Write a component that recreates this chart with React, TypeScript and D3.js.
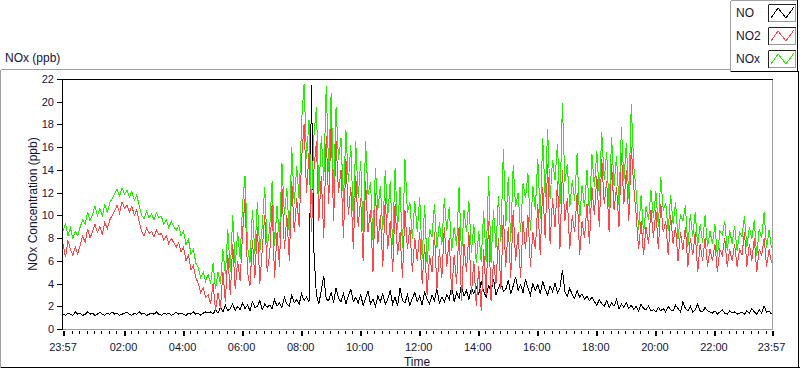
import React from 'react';
import * as d3 from 'd3';

// time of first sample in minutes relative to midnight (23:57 of the previous day), 5-minute samples
const START_MIN = -3;
const STEP_MIN = 5;

const NO_PPB: number[] = [
  1.3,1.2,1.4,1.3,1.2,1.5,1.3,1.4,1.2,1.3,1.5,1.3,
  1.4,1.2,1.3,1.5,1.3,1.2,1.4,1.3,1.5,1.3,1.4,1.2,
  1.3,1.4,1.5,1.3,1.2,1.4,1.3,1.5,1.3,1.4,1.2,1.3,
  1.4,1.3,1.5,1.3,1.2,1.4,1.3,1.4,1.2,1.3,1.5,1.3,
  1.4,1.3,1.2,1.4,1.3,1.5,1.3,1.4,1.2,1.4,1.5,
  1.4,
  1.5,1.3,1.7,1.4,1.9,1.5,2.1,1.6,1.8,2.2,1.6,2.0,
  1.7,2.3,1.8,2.1,1.6,2.4,1.9,2.0,2.5,1.7,2.2,1.9,
  2.1,1.8,2.6,2.0,2.3,1.9,2.8,2.2,2.0,3.0,2.3,2.6,
  2.2,3.1,2.5,2.8,2.4,21.5,6.8,3.0,2.2,3.4,4.7,2.6,
  2.5,3.2,2.3,3.6,2.7,2.4,3.1,2.2,2.9,3.5,2.4,2.8,
  2.3,3.0,2.1,2.7,3.3,2.2,2.6,2.0,2.9,2.4,3.1,2.2,
  2.6,3.4,2.2,2.8,2.0,3.6,2.5,2.3,3.0,2.1,2.7,3.2,
  2.4,2.9,2.1,3.3,2.6,2.2,3.0,2.5,3.5,2.3,2.8,2.4,
  3.0,2.6,3.8,2.4,3.2,2.7,3.9,2.9,3.4,2.6,3.6,3.1,
  3.7,3.0,4.2,3.3,2.8,3.9,3.2,4.4,3.0,3.6,4.1,3.3,
  3.5,4.3,3.1,3.8,4.6,3.4,3.9,3.2,4.4,3.6,3.0,4.0,
  3.4,3.9,3.1,4.2,3.5,3.0,3.8,3.3,4.0,3.2,3.6,5.2,
  3.3,2.9,3.6,3.0,2.7,3.4,2.8,3.1,2.6,2.9,2.5,2.8,
  2.4,2.1,2.6,2.2,2.0,2.5,1.9,2.3,2.0,2.6,1.8,2.2,
  1.9,2.3,1.8,2.1,1.7,2.0,1.6,2.2,1.8,1.7,2.0,1.6,
  1.7,1.5,1.9,1.6,1.8,1.5,2.0,1.7,1.6,2.1,1.8,1.5,
  2.4,1.8,1.6,2.0,1.5,1.7,2.2,1.6,1.5,1.9,1.6,1.5,
  1.4,1.6,1.3,1.5,1.7,1.4,1.3,1.6,1.4,1.5,1.3,1.4,
  1.5,1.3,1.6,1.4,1.8,1.5,1.3,1.7,1.4,2.0,1.5,1.6,
  1.3,
];

const NO2_PPB: number[] = [
  7.5,6.3,7.8,7.0,6.5,7.2,6.6,7.4,
  8.2,7.6,8.8,8.0,8.6,
  9.2,8.5,9.0,8.3,9.4,8.8,9.6,10.0,
  10.4,10.9,10.2,11.2,10.6,10.9,10.3,10.8,10.0,10.5,9.4,
  8.6,8.2,8.9,8.4,8.6,8.1,8.7,8.3,
  8.4,7.8,8.2,7.5,8.0,7.6,7.2,7.6,
  6.8,7.2,6.0,6.5,5.2,5.6,
  4.5,4.0,3.2,3.6,2.8,
  3.0,
  2.2,4.0,1.6,3.2,1.8,5.0,2.4,6.5,3.0,7.5,3.5,6.0,
  4.2,8.5,11.5,5.0,3.8,7.8,4.5,9.0,4.0,7.0,10.0,5.0,
  6.5,11.0,4.5,8.5,5.5,12.5,7.0,10.0,6.0,13.0,8.5,11.5,
  9.0,15.0,18.0,12.0,15.5,8.5,14.0,16.5,9.5,13.5,8.0,17.0,
  11.0,18.0,9.5,16.5,12.0,14.0,8.0,15.0,10.0,12.5,7.0,13.5,
  9.0,11.5,6.0,13.0,8.5,10.5,5.0,12.0,7.5,10.0,5.5,11.5,
  7.0,9.5,5.0,11.0,6.5,8.5,4.5,10.5,7.0,9.0,5.0,8.0,
  6.0,8.5,4.0,7.5,3.0,6.5,5.0,8.5,3.5,7.0,4.5,9.0,
  5.5,8.0,3.0,6.5,4.0,9.0,2.5,7.5,5.0,8.5,3.0,6.0,
  2.0,5.5,1.6,7.0,3.0,9.5,2.5,6.0,4.0,8.0,3.5,10.0,
  5.5,9.0,4.5,10.5,6.0,8.5,4.5,9.5,7.0,10.0,5.5,8.5,
  7.0,11.0,6.5,12.5,8.0,14.5,7.5,11.5,9.0,13.0,7.0,14.0,
  9.5,11.5,7.0,10.0,8.5,12.0,6.5,9.5,8.0,11.0,7.5,12.5,
  10.0,13.5,9.0,15.0,11.0,13.0,8.5,14.5,10.5,12.5,9.0,15.5,
  11.0,14.0,9.5,16.0,12.5,10.0,7.0,9.5,6.5,9.0,7.5,10.5,
  8.0,10.5,7.0,11.0,8.5,9.5,6.5,10.0,7.5,9.0,6.0,8.5,
  7.0,9.0,5.5,8.0,6.5,8.5,5.0,7.5,6.0,8.0,5.5,7.0,
  6.0,7.5,5.0,7.0,6.5,8.0,5.5,7.0,6.0,7.5,5.5,7.0,
  6.5,8.5,5.5,7.5,6.0,8.0,5.0,7.0,6.5,8.0,5.5,7.0,
  5.8,
];

const NOX_PPB: number[] = [
  8.6,9.3,8.2,8.9,8.0,8.6,8.2,9.0,
  9.6,9.2,10.3,9.5,10.1,
  10.8,10.0,10.6,9.9,11.0,10.2,11.1,11.5,
  11.9,12.3,11.7,12.4,11.9,12.2,11.6,12.1,11.3,11.8,10.8,
  10.0,9.7,10.4,9.8,10.1,9.6,10.2,9.8,
  9.9,9.2,9.6,8.9,9.5,9.0,8.7,9.1,
  8.2,8.6,7.4,7.9,6.6,7.0,
  5.8,5.4,4.5,5.0,4.2,
  4.8,
  4.0,5.8,3.5,5.0,4.0,7.0,4.8,8.8,5.0,10.0,5.5,8.5,
  6.2,11.0,13.5,7.3,5.8,10.5,6.6,11.2,6.8,9.0,12.5,7.2,
  8.8,13.0,7.3,10.8,8.0,14.6,10.0,12.4,8.2,16.0,11.0,14.3,
  11.4,18.3,21.6,15.0,18.4,11.0,17.0,19.5,11.8,17.0,13.0,21.4,
  13.8,20.8,12.0,19.5,14.9,16.8,11.2,17.5,12.9,16.2,9.6,16.5,
  11.5,14.8,8.3,16.5,11.8,12.9,7.8,14.2,10.5,12.6,8.7,14.0,
  9.8,13.0,7.4,14.2,8.7,12.5,7.1,15.0,10.2,11.2,7.9,11.3,
  8.5,11.6,6.2,10.9,5.7,8.8,8.1,11.0,7.1,9.4,7.4,11.5,
  8.6,10.7,6.9,9.0,7.3,12.5,6.5,10.5,8.5,11.3,6.7,9.2,
  5.8,8.6,5.9,10.4,5.9,13.5,5.8,10.5,7.1,11.7,7.7,15.8,
  9.1,13.4,7.7,14.4,10.7,12.0,8.5,12.8,11.5,13.7,8.6,12.6,
  10.5,15.0,9.7,16.8,11.6,17.6,11.4,14.9,13.1,16.3,10.7,19.9,
  12.9,14.5,10.7,13.1,11.3,15.5,9.4,12.7,10.7,14.0,10.1,15.4,
  12.5,15.7,11.7,17.3,13.1,15.6,10.5,16.9,12.6,15.2,10.9,17.8,
  13.0,16.4,11.4,19.8,14.3,12.1,8.7,11.8,8.4,10.8,9.6,12.2,
  9.8,12.1,9.0,13.4,10.4,11.1,8.6,11.8,9.2,11.2,7.9,10.1,
  9.5,10.9,7.2,10.1,8.1,10.3,7.3,9.2,7.6,10.0,7.2,8.6,
  7.5,9.2,6.4,8.6,8.3,9.5,6.9,8.7,7.5,9.1,6.9,8.5,
  8.1,9.9,7.2,9.0,7.9,9.6,6.4,8.8,8.0,10.3,7.1,8.7,
  7.1,
];

const SERIES_NAMES = ['NO', 'NO2', 'NOx'];
const SERIES_COLORS = ['#000000', '#ff4646', '#22ee00'];

const Y_TICKS = [0, 2, 4, 6, 8, 10, 12, 14, 16, 18, 20, 22];
const X_TICK_LABELS = ['23:57', '02:00', '04:00', '06:00', '08:00', '10:00', '12:00', '14:00', '16:00', '18:00', '20:00', '22:00', '23:57'];
const X_TICK_MINUTES = [-3, 120, 240, 360, 480, 600, 720, 840, 960, 1080, 1200, 1320, 1437];

const FONT = '"Liberation Sans", Arial, sans-serif';
const TEXT = '#14143c';

export default function App() {
  const W = 800, H = 369;
  const left = 62, right = 772, top = 79, bottom = 329;
  const x = d3.scaleLinear().domain([-3, 1437]).range([63, 771.5]);
  const y = d3.scaleLinear().domain([0, 22]).range([bottom, top]);

  const series = [NO_PPB, NO2_PPB, NOX_PPB];
  const line = d3.line<number>()
    .x((_, i) => x(START_MIN + i * STEP_MIN))
    .y((d) => y(d));

  const minors: number[] = [];
  for (let m = 15; m < 1437; m += 15) {
    if (m % 120 === 0) continue;
    if (x(m) - x(-3) < 4 || x(1437) - x(m) < 4) continue;
    minors.push(m);
  }

  return (
    <svg width={W} height={H} style={{ position: 'fixed', left: 0, top: 0, background: '#fff' }} fontFamily={FONT}>
      <defs>
        <clipPath id="plotClip">
          <rect x={left} y={top - 1} width={right - left} height={bottom - top + 1} />
        </clipPath>
      </defs>
      <rect x={0} y={0} width={W} height={H} fill="#fff" />

      {/* outer frame */}
      <g shapeRendering="crispEdges">
        <line x1={0.5} y1={69.5} x2={731} y2={69.5} stroke="#a0a0a0" />
        <line x1={0.5} y1={69.5} x2={0.5} y2={367.5} stroke="#a0a0a0" />
        <line x1={0.5} y1={367.5} x2={799.5} y2={367.5} stroke="#000" />
        <line x1={798.5} y1={72} x2={798.5} y2={368} stroke="#000" />
      </g>

      <text x={5} y={62} fontSize={12} fill={TEXT}>NOx (ppb)</text>

      {/* legend */}
      <g shapeRendering="crispEdges">
        <rect x={730.5} y={0.5} width={67} height={71} fill="#fff" stroke="none" />
        <line x1={730.5} y1={0.5} x2={797.5} y2={0.5} stroke="#a0a0a0" />
        <line x1={730.5} y1={0.5} x2={730.5} y2={72} stroke="#a0a0a0" />
        <line x1={730.5} y1={71.5} x2={798.5} y2={71.5} stroke="#000" />
        <line x1={797.5} y1={0} x2={797.5} y2={72} stroke="#000" />
      </g>
      {SERIES_NAMES.map((name, k) => {
        const by = 4 + k * 23;
        const bx = 768;
        const bw = 27, bh = 17;
        return (
          <g key={name}>
            <text x={736} y={by + 13} fontSize={12} fill={TEXT}>{name}</text>
            <g shapeRendering="crispEdges">
              <rect x={bx + 0.5} y={by + 0.5} width={bw} height={bh} fill="#fff" stroke="#9a9a9a" />
              <line x1={bx + 0.5} y1={by + 0.5} x2={bx + bw + 0.5} y2={by + 0.5} stroke="#222" />
              <line x1={bx + 0.5} y1={by + 0.5} x2={bx + 0.5} y2={by + bh + 0.5} stroke="#222" />
            </g>
            <polyline
              points={`${bx + 3},${by + 14} ${bx + 10},${by + 4} ${bx + 18},${by + 14} ${bx + 26},${by + 3}`}
              fill="none" stroke={SERIES_COLORS[k]} strokeWidth={1} shapeRendering="crispEdges" />
          </g>
        );
      })}

      {/* data */}
      <g clipPath="url(#plotClip)">
        {series.map((s, k) => (
          <path key={k} d={line(s) || ''} fill="none" stroke={SERIES_COLORS[k]} strokeWidth={1}
            strokeLinejoin="miter" shapeRendering="crispEdges" />
        ))}
      </g>

      {/* plot box */}
      <g shapeRendering="crispEdges">
        <line x1={left} y1={bottom + 0.5} x2={right + 1} y2={bottom + 0.5} stroke="#a0a0a0" />
        <line x1={right + 0.5} y1={top} x2={right + 0.5} y2={bottom + 1} stroke="#a0a0a0" />
        <line x1={left + 0.5} y1={top + 0.5} x2={right + 1} y2={top + 0.5} stroke="#000" />
        <line x1={left + 0.5} y1={top} x2={left + 0.5} y2={bottom + 1} stroke="#000" />
      </g>

      {/* y axis */}
      <g shapeRendering="crispEdges">
        {Y_TICKS.map((v) => (
          <line key={v} x1={57} x2={62} y1={Math.round(y(v)) + 0.5} y2={Math.round(y(v)) + 0.5} stroke="#000" />
        ))}
      </g>
      {Y_TICKS.map((v) => (
        <text key={v} x={54} y={y(v) + 4} fontSize={11} textAnchor="end" fill={TEXT}>{v}</text>
      ))}
      <text transform={`translate(37,${(top + bottom) / 2}) rotate(-90)`} fontSize={12} textAnchor="middle" fill={TEXT}>
        NOx Concentration (ppb)
      </text>

      {/* x axis */}
      <g shapeRendering="crispEdges">
        {minors.map((m) => (
          <line key={m} x1={Math.round(x(m)) + 0.5} x2={Math.round(x(m)) + 0.5} y1={331} y2={334} stroke="#000" />
        ))}
        {X_TICK_MINUTES.map((m) => (
          <rect key={m} x={Math.round(x(m)) - 0.5} y={331} width={2} height={5} fill="#000" />
        ))}
      </g>
      {X_TICK_MINUTES.map((m, i) => (
        <text key={m} x={x(m)} y={351} fontSize={11} textAnchor="middle" fill={TEXT}>{X_TICK_LABELS[i]}</text>
      ))}
      <text x={417} y={366} fontSize={12} textAnchor="middle" fill={TEXT}>Time</text>
    </svg>
  );
}
